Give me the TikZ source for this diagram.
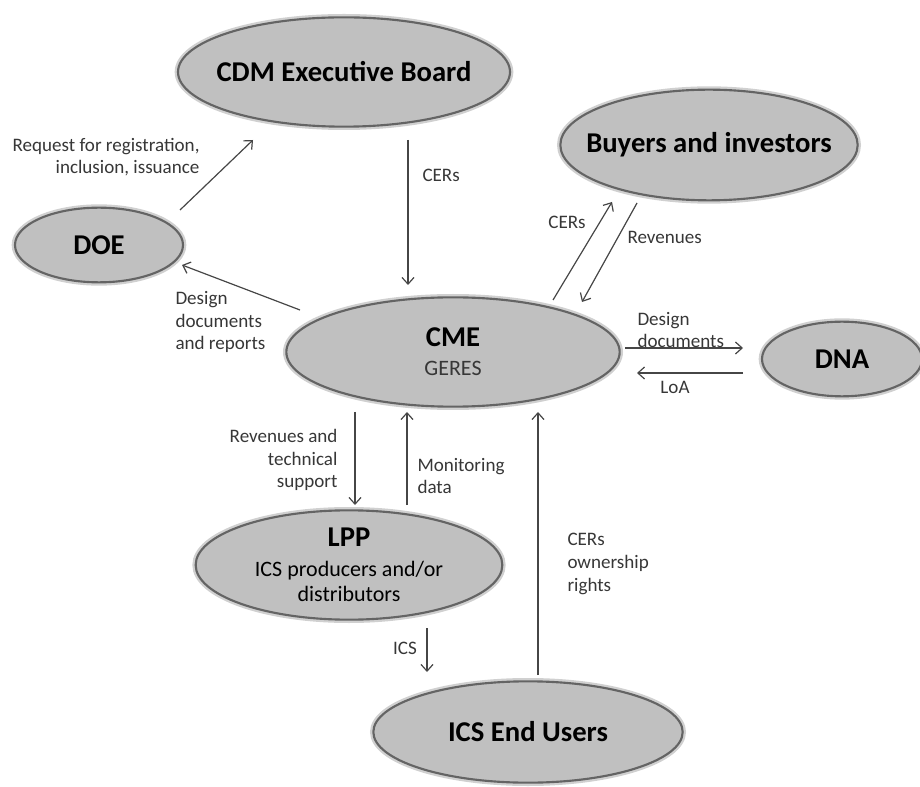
\documentclass[tikz,border=0pt]{standalone}
\usepackage{fontspec}
\setmainfont{Carlito}
\usetikzlibrary{shapes.geometric,arrows.meta}

\definecolor{bubblefill}{RGB}{192,192,192}
\definecolor{bubbleedge}{RGB}{100,100,100}
\definecolor{bubbleglow}{RGB}{208,208,208}
\definecolor{flowgray}{RGB}{70,70,70}
\definecolor{labelgray}{RGB}{55,55,55}

\newcommand{\bigname}{\fontsize{21.5}{22}\selectfont\bfseries}
\newcommand{\smallname}{\fontsize{16.5}{19}\selectfont\mdseries}

\tikzset{every picture/.style={line width=0.75pt}}
\tikzset{
	bubble/.style={ellipse, fill=bubblefill, draw=bubbleedge, line width=1.6pt, preaction={draw=bubbleglow, line width=5pt}, inner xsep=-30pt, inner ysep=-8pt, align=center, text=black, font=\bigname},
	flow/.style={draw=flowgray, line width=0.9pt, -{Straight Barb[length=5pt,width=9pt]}},
	flowlabel/.style={inner sep=0.75pt, text=labelgray, font=\fontsize{14.3}{17}\selectfont}
}

\begin{document}
\begin{tikzpicture}[x=0.75pt,y=0.75pt,yscale=-1,xscale=1]
	\useasboundingbox (0,0) rectangle (920,787);
	
	\node [bubble, minimum width=249pt, minimum height=82pt] (cdm) at (344,72) {CDM Executive Board};
	\node [bubble, minimum width=223pt, minimum height=83pt] (buyers) at (709,145) {Buyers and investors};
	\node [bubble, minimum width=126pt, minimum height=56pt] (doe) at (99,245) {DOE};
	\node [bubble, minimum width=250pt, minimum height=82pt] (cme) at (453,352) {CME\\{\smallname\color{labelgray}GERES}};
	\node [bubble, minimum width=120pt, minimum height=56pt] (dna) at (842,359) {DNA};
	\node [bubble, minimum width=230pt, minimum height=82pt] (lpp) at (349,565) {LPP\\{\smallname ICS producers and/or}\\[-3pt]{\smallname distributors}};
	\node [bubble, minimum width=232pt, minimum height=76pt] (users) at (528,732) {ICS End Users};
	
	\coordinate (doeout) at (180,210);
	\coordinate (cdmin) at (253,140);
	\coordinate (cdmout) at (408,140);
	\coordinate (cmein) at (408,285);
	\coordinate (cmeleft) at (300,310);
	\coordinate (doein) at (182,265);
	\coordinate (cmeup) at (553,300);
	\coordinate (buyersin) at (612,202);
	\coordinate (buyersout) at (637,203);
	\coordinate (cmedown) at (582,302);
	\coordinate (cmeright) at (625,348);
	\coordinate (dnain) at (743,348);
	\coordinate (dnaout) at (743,373);
	\coordinate (cmeback) at (637,373);
	\coordinate (cmebottom) at (355,412);
	\coordinate (lppin) at (355,505);
	\coordinate (lppout) at (407,505);
	\coordinate (cmemon) at (407,412);
	\coordinate (lppbottom) at (427,628);
	\coordinate (usersin) at (427,672);
	\coordinate (usersout) at (538,675);
	\coordinate (cmeown) at (538,412);
	
	\draw [flow] (doeout) -- (cdmin);
	\draw [flow] (cdmout) -- (cmein);
	\draw [flow] (cmeleft) -- (doein);
	\draw [flow] (cmeup) -- (buyersin);
	\draw [flow] (buyersout) -- (cmedown);
	\draw [flow] (cmeright) -- (dnain);
	\draw [flow] (dnaout) -- (cmeback);
	\draw [flow] (cmebottom) -- (lppin);
	\draw [flow] (lppout) -- (cmemon);
	\draw [flow] (lppbottom) -- (usersin);
	\draw [flow] (usersout) -- (cmeown);
	
	\node [flowlabel, anchor=east, align=right] (request) at (201,157) {Request for registration,\\inclusion, issuance};
	\node [flowlabel, anchor=west] (cerstop) at (421,175) {CERs};
	\node [flowlabel, anchor=west, align=left] (designdoe) at (174,322) {Design\\documents\\and reports};
	\node [flowlabel] (cersbuy) at (567,222) {CERs};
	\node [flowlabel, anchor=west] (revbuy) at (626,237) {Revenues};
	\node [flowlabel, anchor=west, align=left] (designdna) at (636,330) {Design\\documents};
	\node [flowlabel] (loa) at (675,387) {LoA};
	\node [flowlabel, anchor=east, align=right] (revlpp) at (339,460) {Revenues and\\technical\\support};
	\node [flowlabel, anchor=west, align=left] (monitor) at (416,476) {Monitoring\\data};
	\node [flowlabel] (ics) at (405,648) {ICS};
	\node [flowlabel, anchor=west, align=left] (owner) at (566,564) {CERs\\ownership\\rights};
	
\end{tikzpicture}
\end{document}
